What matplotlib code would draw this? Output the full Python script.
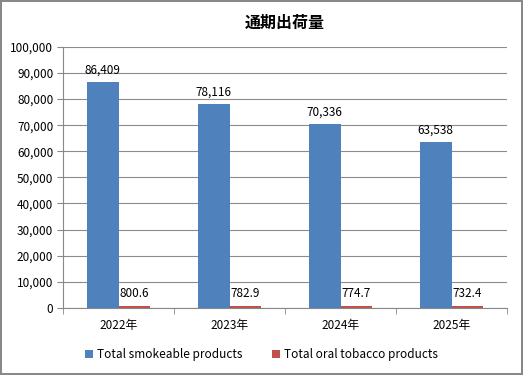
import matplotlib.pyplot as plt
import numpy as np

plt.rcParams['font.family'] = ['Noto Sans CJK JP', 'DejaVu Sans']

# --- data ---
years = ['2022年', '2023年', '2024年', '2025年']
smokeable = [86409, 78116, 70336, 63538]
oral = [800.6, 782.9, 774.7, 732.4]
smoke_labels = ['86,409', '78,116', '70,336', '63,538']
oral_labels = ['800.6', '782.9', '774.7', '732.4']

BLUE = '#4F81BD'
RED = '#C0504D'

fig = plt.figure(figsize=(5.23, 3.75), dpi=100)
fig.patch.set_edgecolor('#888888')
fig.patch.set_linewidth(1.5)
ax = fig.add_axes([0.1205, 0.179, 0.849, 0.696])

x = np.arange(len(years))
w = 0.285
b1 = ax.bar(x - w / 2, smokeable, w, color=BLUE, label='Total smokeable products', zorder=3)
b2 = ax.bar(x + w / 2, oral, w, color=RED, label='Total oral tobacco products', zorder=3)

for rect, txt in zip(b1, smoke_labels):
    ax.annotate(txt, (rect.get_x() + rect.get_width() / 2, rect.get_height()),
                xytext=(0, 4), textcoords='offset points', ha='center', va='bottom', fontsize=8.5)
for rect, txt in zip(b2, oral_labels):
    ax.annotate(txt, (rect.get_x() + rect.get_width() / 2, rect.get_height()),
                xytext=(0, 4), textcoords='offset points', ha='center', va='bottom', fontsize=8.5)

ax.set_xlim(-0.5, len(years) - 0.5)
ax.set_ylim(0, 100000)
ax.set_yticks(np.arange(0, 100001, 10000))
ax.set_yticklabels([f'{v:,}' for v in range(0, 100001, 10000)], fontsize=8.5)
ax.set_xticks(x)
ax.set_xticklabels(years, fontsize=8.5)
ax.set_xticks(np.arange(-0.5, len(years)), minor=True)
ax.tick_params(axis='x', which='major', length=0, pad=8)
ax.tick_params(axis='x', which='minor', length=4, color='#888888')
ax.tick_params(axis='y', length=4, color='#888888', pad=3)

ax.grid(axis='y', color='#8c8c8c', linewidth=0.8, zorder=0)
for s in ['top', 'right']:
    ax.spines[s].set_visible(False)
ax.spines['left'].set_color('#888888')
ax.spines['bottom'].set_color('#888888')

ax.set_title('通期出荷量', fontsize=11.5, fontweight='bold', pad=14)

fig.legend(loc='center', bbox_to_anchor=(0.5, 0.055), ncol=2, frameon=False,
           fontsize=8.5, handlelength=0.7, handleheight=0.7, handletextpad=0.3,
           columnspacing=2.5)

fig.savefig('out.png', dpi=100, edgecolor=fig.get_edgecolor())
